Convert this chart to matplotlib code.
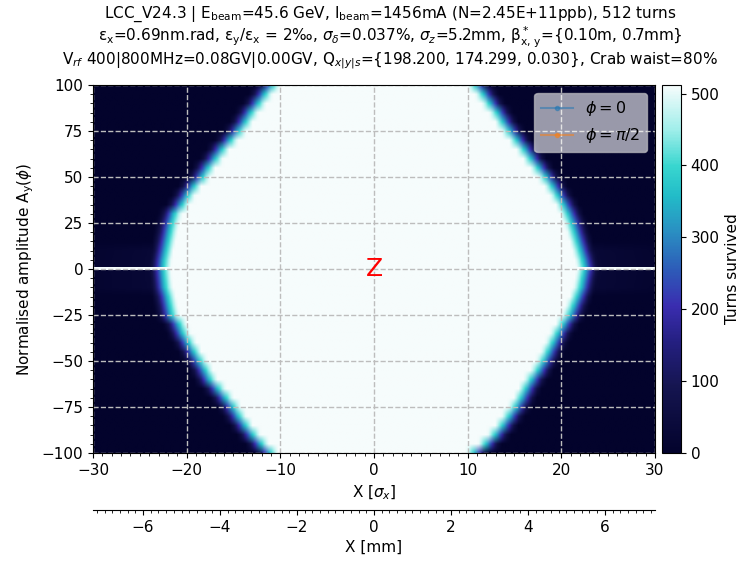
import numpy as np
import matplotlib
matplotlib.use("Agg")
import matplotlib.pyplot as plt
from matplotlib.colors import LinearSegmentedColormap
from matplotlib.ticker import MultipleLocator, AutoMinorLocator

plt.rcParams['font.family'] = ['DejaVu Sans']
plt.rcParams['font.size'] = 11

# ---------------- data ----------------
ay_rows = [100, 95, 90, 85, 80, 75, 70, 65, 60, 55, 50, 45, 40, 35, 30, 25, 20, 15, 10, 5, 0,
           -5, -10, -15, -20, -25, -30, -35, -40, -45, -50, -55, -60, -65, -70, -75, -80, -85,
           -90, -95, -100]
left_edge = [-10.1, -10.9, -11.6, -12.4, -13.0, -13.7, -14.6, -15.5, -16.2, -17.0, -17.6,
             -18.5, -19.2, -19.8, -20.6, -20.9, -21.1, -21.3, -21.5, -21.7, -21.8,
             -21.7, -21.6, -21.3, -21.1, -20.9, -20.1, -19.7, -19.1, -18.5, -17.9,
             -17.3, -16.8, -15.9, -15.1, -14.3, -13.7, -13.0, -12.2, -11.3, -10.3]
right_edge = [10.1, 10.9, 11.6, 12.4, 13.0, 13.7, 14.5, 15.3, 16.0, 16.8, 17.6,
              18.3, 18.9, 19.5, 20.0, 20.4, 20.7, 21.0, 21.3, 21.6, 21.8,
              21.6, 21.4, 21.0, 20.6, 20.2, 19.5, 18.9, 18.4, 17.9, 17.4,
              16.8, 16.1, 15.5, 15.0, 14.4, 13.7, 13.0, 12.2, 11.2, 9.9]
# turns survived vs distance outside the stable edge [sigma_x]
profile_dist = [0.0, 0.4, 0.8, 1.2, 1.6, 2.0, 2.5]
profile_turns = [512, 445, 375, 275, 170, 70, 0]
# faint halo near the horizontal axis
halo_ay_limit = 10
halo_dist = [0.0, 3.0, 8.0, 30.0]
halo_turns = [45, 25, 12, 5]
axis_row_turns = 512       # the Ay = 0 row survives everywhere
n_turns = 512
sigma_x_mm = 0.2434

legend_labels = [r'$\phi=0$', r'$\phi=\pi/2$']
legend_x = []
legend_y = []

title_lines = [
    "LCC_V24.3 | E$_\\mathrm{beam}$=45.6 GeV, I$_\\mathrm{beam}$=1456mA (N=2.45E+11ppb), 512 turns",
    "ε$_\\mathrm{x}$=0.69nm.rad, ε$_\\mathrm{y}$/ε$_\\mathrm{x}$ = 2‰, $\\sigma_\\delta$=0.037%, "
    "$\\sigma_z$=5.2mm, β$^*_\\mathrm{x,\\,y}$={0.10m, 0.7mm}",
    "V$_{rf}$ 400|800MHz=0.08GV|0.00GV, Q$_{x|y|s}$={198.200, 174.299, 0.030}, Crab waist=80%",
]

# ---------------- build the survival map (one image row per tabulated Ay row) ----------------
x = np.arange(-30, 30.001, 0.25)
rows = np.array(ay_rows, dtype=float)
order = np.argsort(rows)
Z = np.zeros((len(rows), len(x)))
for j, k in enumerate(order):
    d = np.maximum(np.maximum(left_edge[k] - x, x - right_edge[k]), 0.0)
    v = np.interp(d, profile_dist, profile_turns)
    if abs(rows[k]) <= halo_ay_limit:
        v = np.maximum(v, np.interp(d, halo_dist, halo_turns))
    Z[j] = v
axis_row = np.full((1, len(x)), axis_row_turns, dtype=float)
dy = abs(rows[1] - rows[0])

cmap = LinearSegmentedColormap.from_list('surv', [
    (0.00, '#03032c'),
    (0.18, '#151550'),
    (0.30, '#241f80'),
    (0.40, '#3a2db0'),
    (0.50, '#2d5cb8'),
    (0.60, '#2a8ec2'),
    (0.70, '#22bcc8'),
    (0.78, '#38d6cf'),
    (0.88, '#a0eeea'),
    (1.00, '#f6fcfc'),
])

fig = plt.figure(figsize=(7.42, 5.62), dpi=100)
ax = fig.add_axes([0.1253, 0.1940, 0.7574, 0.6548])
cax = fig.add_axes([0.892, 0.1940, 0.0256, 0.6548])

im = ax.imshow(Z, extent=[x[0], x[-1], rows.min() - dy / 2, rows.max() + dy / 2],
               origin='lower', aspect='auto', cmap=cmap, vmin=0, vmax=n_turns,
               interpolation='bilinear')
ax.imshow(axis_row, extent=[x[0], x[-1], -0.6, 0.6], origin='lower', aspect='auto',
          cmap=cmap, vmin=0, vmax=n_turns, interpolation='nearest')

for lab, c in zip(legend_labels, ['C0', 'C1']):
    ax.plot(legend_x, legend_y, '.-', color=c, alpha=0.5, label=lab)

ax.text(0, 0, 'Z', color='red', fontsize=18, ha='center', va='center')

ax.set_xlim(-30, 30)
ax.set_ylim(-100, 100)
ax.xaxis.set_major_locator(MultipleLocator(10))
ax.xaxis.set_minor_locator(MultipleLocator(1))
ax.yaxis.set_major_locator(MultipleLocator(25))
ax.yaxis.set_minor_locator(MultipleLocator(5))
ax.grid(True, which='major', ls='--', color='#bdbdbd', lw=1)
ax.set_xlabel(r'X [$\sigma_x$]')
ax.set_ylabel(r'Normalised amplitude A$_\mathrm{y}$($\phi$)')

fig_w, fig_h = 742, 562
for line, ypx in zip(title_lines, [14, 37.5, 61]):
    fig.text(390 / fig_w, 1 - ypx / fig_h, line, ha='center', va='center', fontsize=11)

leg = ax.legend(loc='upper right', fontsize=11.5, framealpha=0.6)

sec = ax.secondary_xaxis(-0.155, functions=(lambda v: v * sigma_x_mm, lambda v: v / sigma_x_mm))
sec.xaxis.set_major_locator(MultipleLocator(2))
sec.xaxis.set_minor_locator(AutoMinorLocator(10))
sec.set_xlabel('X [mm]')

cb = fig.colorbar(im, cax=cax)
cb.set_ticks([0, 100, 200, 300, 400, 500])
cb.set_label('Turns survived')

fig.savefig('out.png', dpi=100)
